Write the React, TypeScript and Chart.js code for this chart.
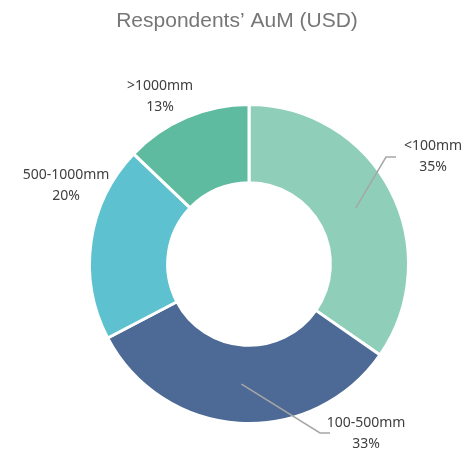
import React, { useEffect, useRef } from "react";
import { Chart, registerables } from "chart.js";

Chart.register(...registerables);

const title = "Respondents\u2019 AuM (USD)";
const categories = ["<100mm", "100-500mm", "500-1000mm", ">1000mm"];
const shares = [35, 33, 20, 13];
const colors = ["#8fcfba", "#4d6a96", "#5ec1cf", "#5fbb9f"];
// label centre offsets relative to the doughnut centre (px)
const labelOffsets: [number, number][] = [
  [184, -107],
  [117, 170],
  [-183, -78],
  [-89, -167],
];
// leader line: [elbowDx, elbowDy, endDx] relative to centre; null = no leader
const leaders: ([number, number, number] | null)[] = [
  [137, -107, 147],
  [71, 169, 81],
  null,
  null,
];

const labelPlugin = {
  id: "sliceLabels",
  afterDraw(chart: any) {
    const ctx = chart.ctx;
    const meta = chart.getDatasetMeta(0);
    const w = chart.width;
    ctx.save();
    ctx.fillStyle = "#767676";
    ctx.font = "21px 'Liberation Sans', Arial, sans-serif";
    ctx.textAlign = "center";
    ctx.textBaseline = "middle";
    ctx.fillText(title, w / 2 + 4, 21);

    meta.data.forEach((arc: any, i: number) => {
      const cx = arc.x;
      const cy = arc.y;
      const mid = (arc.startAngle + arc.endAngle) / 2;
      const rMid = (arc.innerRadius + arc.outerRadius) / 2;
      const ld = leaders[i];
      if (ld) {
        ctx.strokeStyle = "#a6a6a6";
        ctx.lineWidth = 1.5;
        ctx.beginPath();
        ctx.moveTo(cx + Math.cos(mid) * rMid, cy + Math.sin(mid) * rMid);
        ctx.lineTo(cx + ld[0], cy + ld[1]);
        ctx.lineTo(cx + ld[2], cy + ld[1]);
        ctx.stroke();
      }
      const [dx, dy] = labelOffsets[i];
      ctx.fillStyle = "#404040";
      ctx.font = "14px 'Noto Sans', sans-serif";
      ctx.textAlign = "center";
      ctx.textBaseline = "middle";
      ctx.fillText(categories[i], cx + dx, cy + dy - 10.5);
      ctx.fillText(shares[i] + "%", cx + dx, cy + dy + 10.5);
    });
    ctx.restore();
  },
};

export default function App() {
  const ref = useRef<HTMLCanvasElement>(null);
  useEffect(() => {
    document.body.style.margin = "0";
    const chart = new Chart(ref.current!, {
      type: "doughnut",
      data: {
        labels: categories,
        datasets: [
          {
            data: shares,
            backgroundColor: colors,
            borderColor: "#ffffff",
            borderWidth: 3,
          },
        ],
      },
      options: {
        animation: false,
        responsive: false,
        cutout: "51%",
        layout: { padding: { left: 88, right: 56, top: 103, bottom: 24 } },
        plugins: {
          legend: { display: false },
          title: { display: false },
          tooltip: { enabled: false },
        },
      },
      plugins: [labelPlugin],
    });
    return () => chart.destroy();
  }, []);
  return (
    <div style={{ width: 466, height: 449, background: "#fff" }}>
      <canvas ref={ref} width={466} height={449} />
    </div>
  );
}
